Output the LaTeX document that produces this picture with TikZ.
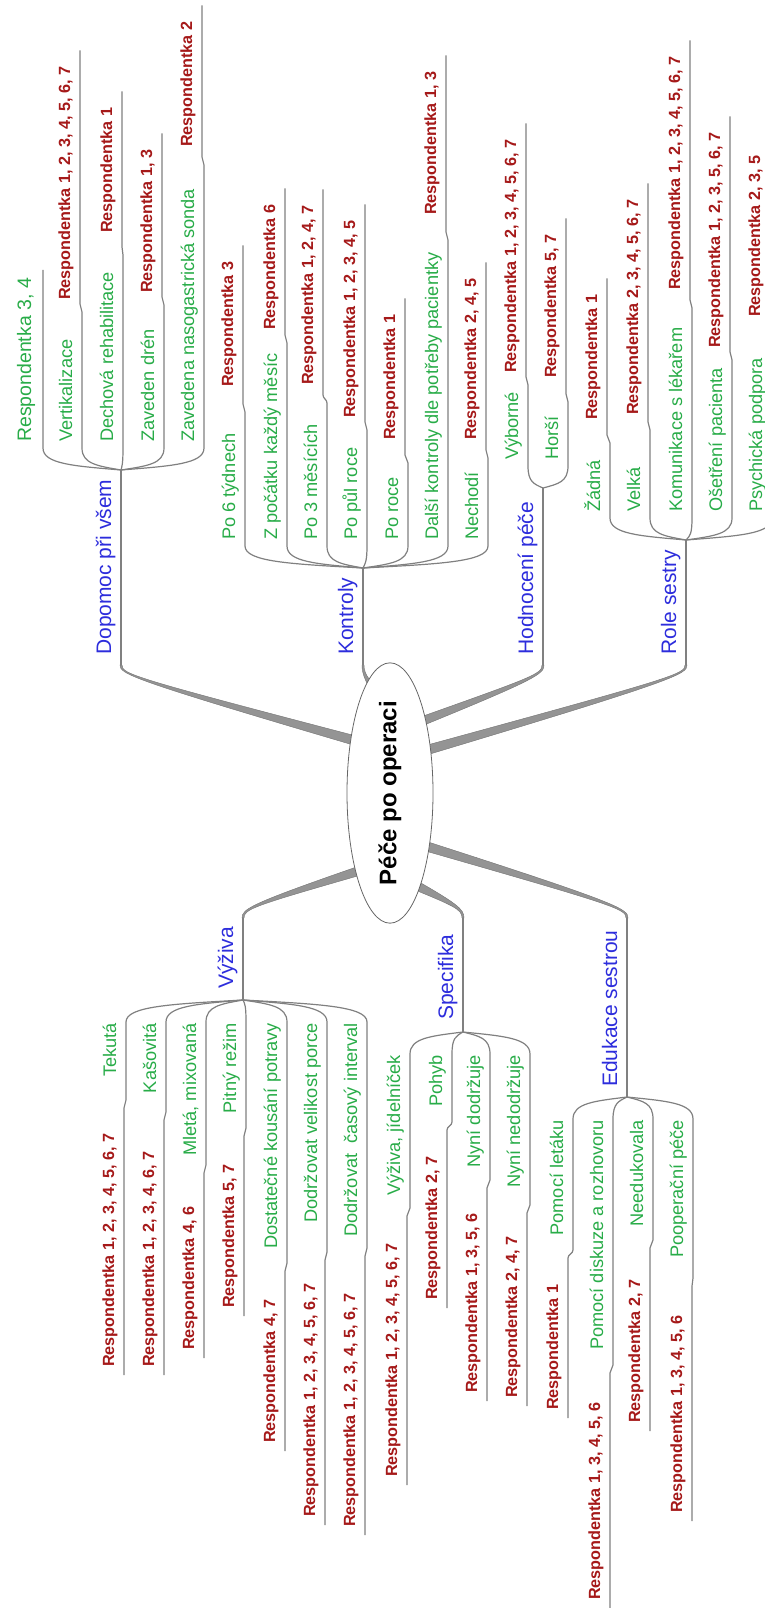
\documentclass[tikz,border=0pt]{standalone}
\usepackage{fontspec}
\setmainfont{Liberation Sans}
\usetikzlibrary{shapes.geometric}
\definecolor{topicblue}{RGB}{45,45,220}
\definecolor{subgreen}{RGB}{40,172,72}
\definecolor{respred}{RGB}{165,25,25}
\tikzset{
  twig/.style={draw=black!50, line width=1.2pt},
  trunk/.style={fill=black!42, draw=black!55, line width=0.4pt},
  topic/.style={rotate=90, anchor=base west, inner sep=0pt},
  main/.style={topic, text=topicblue, font=\fontsize{21}{25}\selectfont},
  sub/.style={topic, text=subgreen, font=\fontsize{18.2}{22}\selectfont},
  resp/.style={topic, text=respred, font=\bfseries\fontsize{16.2}{19}\selectfont},
  centre/.style={ellipse, draw=black!60, fill=white, line width=0.8pt, rotate=90,
    minimum width=207pt, minimum height=86pt, inner sep=0pt,
    font=\bfseries\fontsize{24}{28}\selectfont}
}
\begin{document}
\begin{tikzpicture}[x=1pt,y=1pt]
\useasboundingbox (0,0) rectangle (765,-1608);
\clip (0,0) rectangle (765,-1608);
\fill[trunk] (120,-665) .. controls (120,-674) and (129,-679) .. (360,-747) -- (360,-737) .. controls (131,-677) and (122,-674) .. (122,-665) -- cycle;
\fill[trunk] (362,-665) .. controls (362,-675) and (366,-684) .. (380,-703) -- (388,-697) .. controls (370,-682) and (364,-675) .. (364,-665) -- cycle;
\fill[trunk] (544,-665) .. controls (544,-674) and (537,-679) .. (412,-730) -- (412,-720) .. controls (533,-677) and (542,-674) .. (542,-665) -- cycle;
\fill[trunk] (687,-665) .. controls (687,-674) and (680,-679) .. (420,-757) -- (420,-747) .. controls (676,-677) and (685,-674) .. (685,-665) -- cycle;
\fill[trunk] (242,-918) .. controls (242,-909) and (249,-904) .. (368,-863) -- (368,-873) .. controls (253,-906) and (244,-909) .. (244,-918) -- cycle;
\fill[trunk] (464,-918) .. controls (464,-909) and (458,-904) .. (407,-875) -- (403,-885) .. controls (454,-906) and (462,-909) .. (462,-918) -- cycle;
\fill[trunk] (628,-918) .. controls (628,-909) and (621,-904) .. (422,-840) -- (422,-850) .. controls (617,-906) and (626,-909) .. (626,-918) -- cycle;
\node[centre] (root) at (390,-793) {Péče po operaci};

\coordinate (dopB) at (121,-665);
\coordinate (dopF) at (121,-470);
\node[main] (dop) at (111,-655) {Dopomoc při všem};
\draw[twig] (dopB) -- (dopF);
\node[sub, font=\fontsize{19.5}{23}\selectfont] (dop1) at (31,-442) {Respondentka 3, 4};
\draw[twig] (dopF) .. controls +(-47,4) and +(0,-16) .. (43,-448) -- (43,0 |- dop1.east) -- ++(0,8);
\node[sub] (dop2) at (72,-442) {Vertikalizace};
\node[resp] (dop2r) at (70,-300) {Respondentka 1, 2, 3, 4, 5, 6, 7};
\draw[twig] (dopF) .. controls +(-23,4) and +(0,-16) .. (82,-448) -- (82,-312) to[out=90,in=-90] (80,-304) -- (80,0 |- dop2r.east) -- ++(0,16);
\node[sub] (dop3) at (113,-442) {Dechová rehabilitace};
\node[resp] (dop3r) at (112,-233) {Respondentka 1};
\draw[twig] (dopF) .. controls +(1,4) and +(0,-16) .. (123,-448) -- (123,-255) to[out=90,in=-90] (122,-247) -- (122,0 |- dop3r.east) -- ++(0,16);
\node[sub] (dop4) at (154,-442) {Zaveden drén};
\node[resp] (dop4r) at (152,-293) {Respondentka 1, 3};
\draw[twig] (dopF) .. controls +(26,4) and +(0,-16) .. (164,-448) -- (164,-305) to[out=90,in=-90] (162,-297) -- (162,0 |- dop4r.east) -- ++(0,16);
\node[sub] (dop5) at (194,-442) {Zavedena nasogastrická sonda};
\node[resp] (dop5r) at (192,-147) {Respondentka 2};
\draw[twig] (dopF) .. controls +(50,4) and +(0,-16) .. (204,-448) -- (204,-165) to[out=90,in=-90] (202,-157) -- (202,0 |- dop5r.east) -- ++(0,16);

\coordinate (konB) at (363,-665);
\coordinate (konF) at (363,-568);
\node[main] (kon) at (353,-655) {Kontroly};
\draw[twig] (konB) -- (konF);
\node[sub] (kon1) at (235,-540) {Po 6 týdnech};
\node[resp] (kon1r) at (233,-387) {Respondentka 3};
\draw[twig] (konF) .. controls +(-71,4) and +(0,-16) .. (245,-546) -- (245,-412) to[out=90,in=-90] (243,-404) -- (243,0 |- kon1r.east) -- ++(0,16);
\node[sub] (kon2) at (277,-540) {Z počátku každý měsíc};
\node[resp] (kon2r) at (275,-330) {Respondentka 6};
\draw[twig] (konF) .. controls +(-46,4) and +(0,-16) .. (287,-546) -- (287,-343) to[out=90,in=-90] (285,-335) -- (285,0 |- kon2r.east) -- ++(0,16);
\node[sub] (kon3) at (317,-540) {Po 3 měsících};
\node[resp] (kon3r) at (313,-385) {Respondentka 1, 2, 4, 7};
\draw[twig] (konF) .. controls +(-22,4) and +(0,-16) .. (327,-546) -- (327,-403) to[out=90,in=-90] (323,-395) -- (323,0 |- kon3r.east) -- ++(0,16);
\node[sub] (kon4) at (357,-540) {Po půl roce};
\node[resp] (kon4r) at (355,-418) {Respondentka 1, 2, 3, 4, 5};
\draw[twig] (konF) .. controls +(2,4) and +(0,-16) .. (367,-546) -- (367,-430) to[out=90,in=-90] (365,-422) -- (365,0 |- kon4r.east) -- ++(0,16);
\node[sub] (kon5) at (398,-540) {Po roce};
\node[resp] (kon5r) at (395,-440) {Respondentka 1};
\draw[twig] (konF) .. controls +(27,4) and +(0,-16) .. (408,-546) -- (408,-463) to[out=90,in=-90] (405,-455) -- (405,0 |- kon5r.east) -- ++(0,16);
\node[sub] (kon6) at (438,-540) {Další kontroly dle potřeby pacientky};
\node[resp] (kon6r) at (436,-215) {Respondentka 1, 3};
\draw[twig] (konF) .. controls +(51,4) and +(0,-16) .. (448,-546) -- (448,-240) to[out=90,in=-90] (446,-232) -- (446,0 |- kon6r.east) -- ++(0,16);
\node[sub] (kon7) at (478,-540) {Nechodí};
\node[resp] (kon7r) at (476,-440) {Respondentka 2, 4, 5};
\draw[twig] (konF) .. controls +(75,4) and +(0,-16) .. (488,-546) -- (488,-458) to[out=90,in=-90] (486,-450) -- (486,0 |- kon7r.east) -- ++(0,16);

\coordinate (hodB) at (543,-665);
\coordinate (hodF) at (543,-488);
\node[main] (hod) at (533,-655) {Hodnocení péče};
\draw[twig] (hodB) -- (hodF);
\node[sub] (hod1) at (518,-460) {Výborné};
\node[resp] (hod1r) at (516,-373) {Respondentka 1, 2, 3, 4, 5, 6, 7};
\draw[twig] (hodF) .. controls +(-9,4) and +(0,-16) .. (528,-466) -- (528,-385) to[out=90,in=-90] (526,-377) -- (526,0 |- hod1r.east) -- ++(0,16);
\node[sub] (hod2) at (558,-460) {Horší};
\node[resp] (hod2r) at (556,-378) {Respondentka 5, 7};
\draw[twig] (hodF) .. controls +(15,4) and +(0,-16) .. (568,-466) -- (568,-402) to[out=90,in=-90] (566,-394) -- (566,0 |- hod2r.east) -- ++(0,16);

\coordinate (rolB) at (686,-665);
\coordinate (rolF) at (686,-540);
\node[main] (rol) at (676,-655) {Role sestry};
\draw[twig] (rolB) -- (rolF);
\node[sub] (rol1) at (600,-512) {Žádná};
\node[resp] (rol1r) at (597,-420) {Respondentka 1};
\draw[twig] (rolF) .. controls +(-46,4) and +(0,-16) .. (610,-518) -- (610,-443) to[out=90,in=-90] (607,-435) -- (607,0 |- rol1r.east) -- ++(0,16);
\node[sub] (rol2) at (640,-512) {Velká};
\node[resp] (rol2r) at (638,-415) {Respondentka 2, 3, 4, 5, 6, 7};
\draw[twig] (rolF) .. controls +(-22,4) and +(0,-16) .. (650,-518) -- (650,-430) to[out=90,in=-90] (648,-422) -- (648,0 |- rol2r.east) -- ++(0,16);
\node[sub] (rol3) at (682,-512) {Komunikace s lékařem};
\node[resp] (rol3r) at (680,-290) {Respondentka 1, 2, 3, 4, 5, 6, 7};
\draw[twig] (rolF) .. controls +(4,4) and +(0,-16) .. (692,-518) -- (692,-308) to[out=90,in=-90] (690,-300) -- (690,0 |- rol3r.east) -- ++(0,16);
\node[sub] (rol4) at (722,-512) {Ošetření pacienta};
\node[resp] (rol4r) at (720,-348) {Respondentka 1, 2, 3, 5, 6, 7};
\draw[twig] (rolF) .. controls +(28,4) and +(0,-16) .. (732,-518) -- (732,-360) to[out=90,in=-90] (730,-352) -- (730,0 |- rol4r.east) -- ++(0,16);
\node[sub] (rol5) at (762,-512) {Psychická podpora};
\node[resp] (rol5r) at (760,-317) {Respondentka 2, 3, 5};
\draw[twig] (rolF) .. controls +(52,4) and +(0,-16) .. (772,-518) -- (772,-340) to[out=90,in=-90] (770,-332) -- (770,0 |- rol5r.east) -- ++(0,16);

\coordinate (vyzB) at (243,-918);
\coordinate (vyzF) at (243,-1000);
\node[main] (vyz) at (233,-989) {Výživa};
\draw[twig] (vyzB) -- (vyzF);
\node[sub, anchor=base east] (vyz1) at (116,-1023) {Tekutá};
\node[resp] (vyz1r) at (114,-1367) {Respondentka 1, 2, 3, 4, 5, 6, 7};
\draw[twig] (vyzF) .. controls +(-70,-4) and +(0,16) .. (126,-1022) -- (126,-1100) to[out=-90,in=90] (124,-1108) -- (124,0 |- vyz1r.west) -- ++(0,-8);
\node[sub, anchor=base east] (vyz2) at (156,-1023) {Kašovitá};
\node[resp] (vyz2r) at (154,-1367) {Respondentka 1, 2, 3, 4, 6, 7};
\draw[twig] (vyzF) .. controls +(-46,-4) and +(0,16) .. (166,-1022) -- (166,-1112) to[out=-90,in=90] (164,-1120) -- (164,0 |- vyz2r.west) -- ++(0,-8);
\node[sub, anchor=base east] (vyz3) at (196,-1023) {Mletá, mixovaná};
\node[resp] (vyz3r) at (194,-1350) {Respondentka 4, 6};
\draw[twig] (vyzF) .. controls +(-22,-4) and +(0,16) .. (206,-1022) -- (206,-1165) to[out=-90,in=90] (204,-1173) -- (204,0 |- vyz3r.west) -- ++(0,-8);
\node[sub, anchor=base east] (vyz4) at (236,-1023) {Pitný režim};
\node[resp] (vyz4r) at (234,-1308) {Respondentka 5, 7};
\draw[twig] (vyzF) .. controls +(2,-4) and +(0,16) .. (246,-1022) -- (246,-1128) to[out=-90,in=90] (244,-1136) -- (244,0 |- vyz4r.west) -- ++(0,-8);
\node[sub, anchor=base east] (vyz5) at (277,-1023) {Dostatečné kousání potravy};
\node[resp] (vyz5r) at (275,-1443) {Respondentka 4, 7};
\draw[twig] (vyzF) .. controls +(26,-4) and +(0,16) .. (287,-1022) -- (287,-1263) to[out=-90,in=90] (285,-1271) -- (285,0 |- vyz5r.west) -- ++(0,-8);
\node[sub, anchor=base east] (vyz6) at (317,-1023) {Dodržovat velikost porce};
\node[resp] (vyz6r) at (315,-1517) {Respondentka 1, 2, 3, 4, 5, 6, 7};
\draw[twig] (vyzF) .. controls +(50,-4) and +(0,16) .. (327,-1022) -- (327,-1252) to[out=-90,in=90] (325,-1260) -- (325,0 |- vyz6r.west) -- ++(0,-8);
\node[sub, anchor=base east] (vyz7) at (357,-1023) {Dodržovat\ \ časový interval};
\node[resp] (vyz7r) at (355,-1527) {Respondentka 1, 2, 3, 4, 5, 6, 7};
\draw[twig] (vyzF) .. controls +(74,-4) and +(0,16) .. (367,-1022) -- (367,-1248) to[out=-90,in=90] (365,-1256) -- (365,0 |- vyz7r.west) -- ++(0,-8);

\coordinate (speB) at (463,-918);
\coordinate (speF) at (463,-1032);
\node[main] (spe) at (453,-1020) {Specifika};
\draw[twig] (speB) -- (speF);
\node[sub, anchor=base east] (spe1) at (400,-1055) {Výživa, jídelníček};
\node[resp] (spe1r) at (397,-1477) {Respondentka 1, 2, 3, 4, 5, 6, 7};
\draw[twig] (speF) .. controls +(-32,-4) and +(0,16) .. (410,-1054) -- (410,-1208) to[out=-90,in=90] (407,-1216) -- (407,0 |- spe1r.west) -- ++(0,-8);
\node[sub, anchor=base east] (spe2) at (442,-1055) {Pohyb};
\node[resp] (spe2r) at (437,-1300) {Respondentka 2, 7};
\draw[twig] (speF) .. controls +(-7,-4) and +(0,16) .. (452,-1054) -- (452,-1122) to[out=-90,in=90] (447,-1130) -- (447,0 |- spe2r.west) -- ++(0,-8);
\node[sub, anchor=base east] (spe3) at (480,-1055) {Nyní dodržuje};
\node[resp] (spe3r) at (477,-1393) {Respondentka 1, 3, 5, 6};
\draw[twig] (speF) .. controls +(16,-4) and +(0,16) .. (490,-1054) -- (490,-1180) to[out=-90,in=90] (487,-1188) -- (487,0 |- spe3r.west) -- ++(0,-8);
\node[sub, anchor=base east] (spe4) at (520,-1055) {Nyní nedodržuje};
\node[resp] (spe4r) at (517,-1398) {Respondentka 2, 4, 7};
\draw[twig] (speF) .. controls +(40,-4) and +(0,16) .. (530,-1054) -- (530,-1205) to[out=-90,in=90] (527,-1213) -- (527,0 |- spe4r.west) -- ++(0,-8);

\coordinate (eduB) at (627,-918);
\coordinate (eduF) at (627,-1097);
\node[main] (edu) at (617,-1087) {Edukace sestrou};
\draw[twig] (eduB) -- (eduF);
\node[sub, anchor=base east] (edu1) at (563,-1120) {Pomocí letáku};
\node[resp] (edu1r) at (558,-1410) {Respondentka 1};
\draw[twig] (eduF) .. controls +(-32,-4) and +(0,16) .. (573,-1119) -- (573,-1250) to[out=-90,in=90] (568,-1258) -- (568,0 |- edu1r.west) -- ++(0,-8);
\node[sub, anchor=base east] (edu2) at (603,-1120) {Pomocí diskuze a rozhovoru};
\node[resp] (edu2r) at (600,-1600) {Respondentka 1, 3, 4, 5, 6};
\draw[twig] (eduF) .. controls +(-8,-4) and +(0,16) .. (613,-1119) -- (613,-1365) to[out=-90,in=90] (610,-1373) -- (610,0 |- edu2r.west) -- ++(0,-8);
\node[sub, anchor=base east] (edu3) at (643,-1120) {Needukovala};
\node[resp] (edu3r) at (640,-1423) {Respondentka 2, 7};
\draw[twig] (eduF) .. controls +(16,-4) and +(0,16) .. (653,-1119) -- (653,-1240) to[out=-90,in=90] (650,-1248) -- (650,0 |- edu3r.west) -- ++(0,-8);
\node[sub, anchor=base east] (edu4) at (683,-1120) {Pooperační péče};
\node[resp] (edu4r) at (682,-1513) {Respondentka 1, 3, 4, 5, 6};
\draw[twig] (eduF) .. controls +(40,-4) and +(0,16) .. (693,-1119) -- (693,-1278) to[out=-90,in=90] (692,-1286) -- (692,0 |- edu4r.west) -- ++(0,-8);
\end{tikzpicture}
\end{document}
